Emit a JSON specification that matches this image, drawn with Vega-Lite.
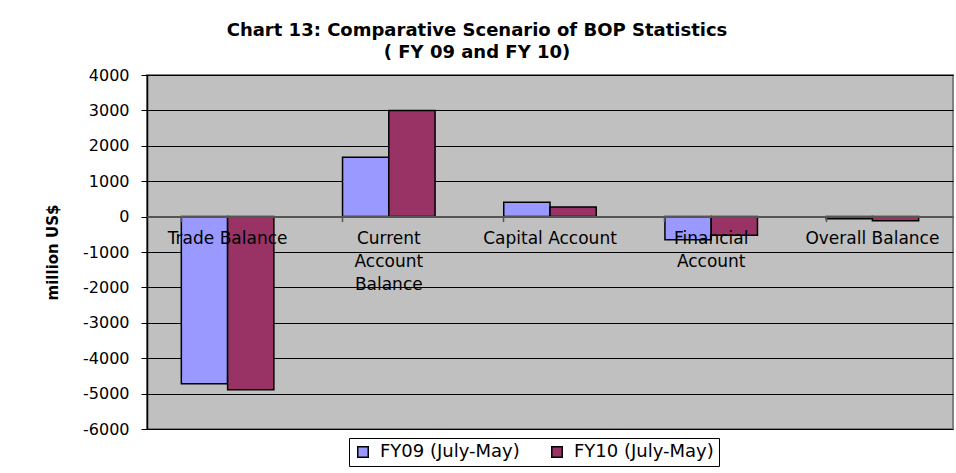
{
  "$schema": "https://vega.github.io/schema/vega-lite/v6.json",
  "autosize": {"type": "none"},
  "padding": {"left": 147, "top": 75, "right": 3, "bottom": 44},
  "width": 806,
  "height": 354,
  "background": "white",
  "title": {
    "text": ["Chart 13: Comparative Scenario of BOP Statistics", "( FY 09 and FY 10)"],
    "font": "DejaVu Sans",
    "fontSize": 18,
    "fontWeight": "bold",
    "color": "black",
    "anchor": "middle",
    "dx": -73,
    "offset": 5,
    "lineHeight": 22
  },
  "data": {
    "values": [
      {"category": "Trade Balance", "year": "FY09 (July-May)", "value": -4720},
      {"category": "Trade Balance", "year": "FY10 (July-May)", "value": -4890},
      {"category": "Current Account Balance", "year": "FY09 (July-May)", "value": 1680},
      {"category": "Current Account Balance", "year": "FY10 (July-May)", "value": 3000},
      {"category": "Capital Account", "year": "FY09 (July-May)", "value": 405},
      {"category": "Capital Account", "year": "FY10 (July-May)", "value": 273},
      {"category": "Financial Account", "year": "FY09 (July-May)", "value": -655},
      {"category": "Financial Account", "year": "FY10 (July-May)", "value": -525},
      {"category": "Overall Balance", "year": "FY09 (July-May)", "value": -60},
      {"category": "Overall Balance", "year": "FY10 (July-May)", "value": -115}
    ]
  },
  "mark": {"type": "bar", "stroke": "black", "strokeWidth": 1.5},
  "encoding": {
    "x": {
      "field": "category",
      "type": "nominal",
      "sort": ["Trade Balance", "Current Account Balance", "Capital Account", "Financial Account", "Overall Balance"],
      "scale": {"paddingInner": 0.426, "paddingOuter": 0.213},
      "axis": {
        "title": null,
        "orient": "bottom",
        "offset": -212.4,
        "zindex": 1,
        "bandPosition": 0,
        "labelAngle": 0,
        "labelAlign": "center",
        "labelBaseline": "top",
        "labelFont": "DejaVu Sans",
        "labelFontSize": 17,
        "labelColor": "black",
        "labelLineHeight": 23,
        "labelPadding": 9,
        "labelOverlap": false,
        "labelExpr": "datum.label == 'Current Account Balance' ? ['Current', 'Account', 'Balance'] : datum.label == 'Financial Account' ? ['Financial', 'Account'] : datum.label",
        "domainColor": "#555555",
        "domainWidth": 2,
        "tickColor": "#555555",
        "tickSize": 5,
        "tickWidth": 1.5,
        "grid": false
      }
    },
    "xOffset": {"field": "year", "type": "nominal"},
    "y": {
      "field": "value",
      "type": "quantitative",
      "scale": {"domain": [-6000, 4000], "nice": false, "zero": false},
      "axis": {
        "title": "million US$",
        "titleFont": "DejaVu Sans",
        "titleFontSize": 15,
        "titleFontWeight": "bold",
        "titleColor": "black",
        "titleX": -95,
        "titleY": 177,
        "titleBaseline": "middle",
        "titleAlign": "center",
        "values": [-6000, -5000, -4000, -3000, -2000, -1000, 0, 1000, 2000, 3000, 4000],
        "labelExpr": "datum.value < 0 ? '-' + format(-datum.value, 'd') : format(datum.value, 'd')",
        "labelFont": "DejaVu Sans",
        "labelFontSize": 16,
        "labelColor": "black",
        "labelPadding": 12,
        "tickColor": "black",
        "tickSize": 6,
        "domainColor": "black",
        "domainWidth": 1.5,
        "grid": true,
        "gridColor": "black",
        "gridWidth": 1,
        "gridOpacity": 1
      }
    },
    "color": {
      "field": "year",
      "type": "nominal",
      "scale": {"domain": ["FY09 (July-May)", "FY10 (July-May)"], "range": ["#9999FF", "#993366"]},
      "legend": {
        "title": null,
        "orient": "none",
        "legendX": 202,
        "legendY": 363,
        "direction": "horizontal",
        "strokeColor": "black",
        "fillColor": "white",
        "padding": 5,
        "symbolType": "square",
        "symbolSize": 110,
        "symbolStrokeColor": "black",
        "symbolStrokeWidth": 1.5,
        "symbolOpacity": 1,
        "labelFont": "DejaVu Sans",
        "labelFontSize": 18,
        "labelColor": "black",
        "labelOffset": 8,
        "columnPadding": 28
      }
    }
  },
  "config": {
    "view": {"fill": "#C0C0C0", "stroke": "#808080", "strokeWidth": 2}
  }
}
